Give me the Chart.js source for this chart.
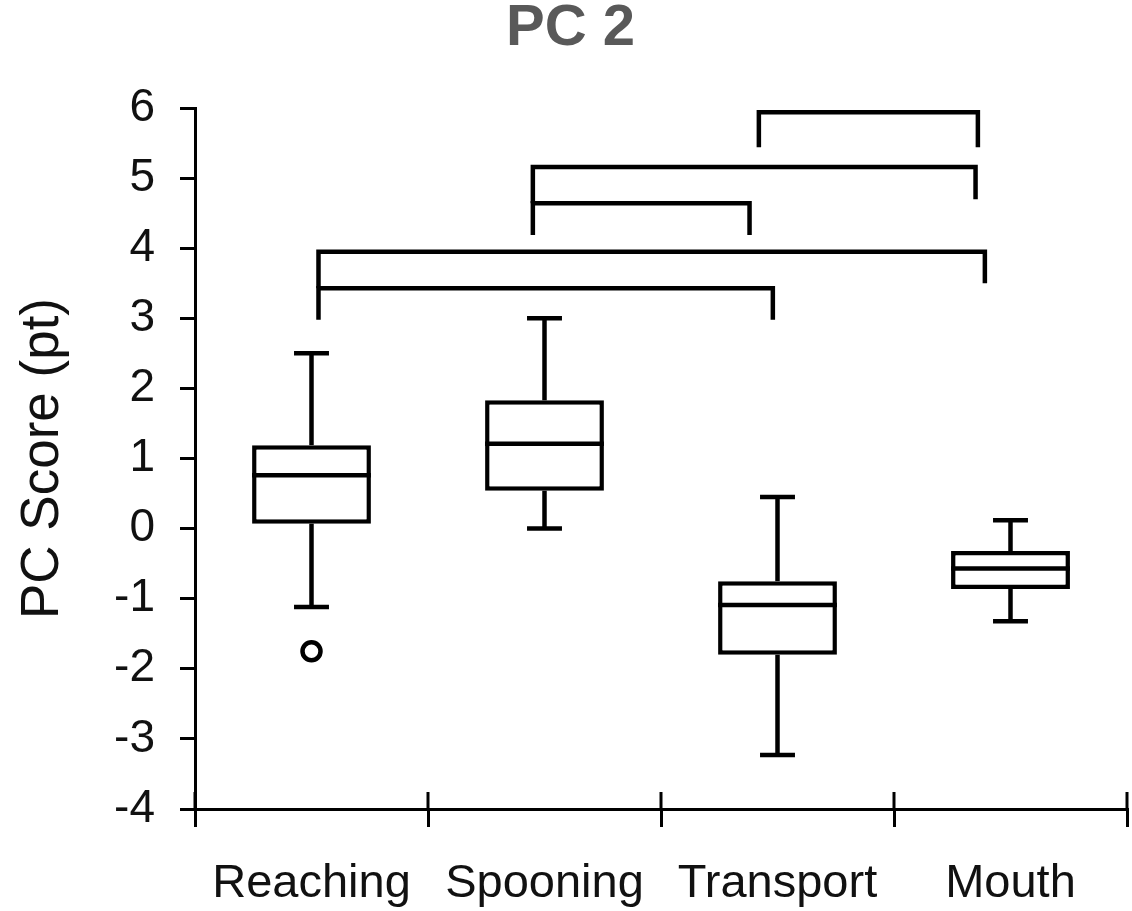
<!DOCTYPE html>
<html>
<head>
<meta charset="utf-8">
<script src="https://cdn.jsdelivr.net/npm/chart.js@4.4.1/dist/chart.umd.min.js"></script>
<style>
  body { margin: 0; background: #fff; overflow: hidden; }
  #wrap { width: 1132px; height: 911px; }
</style>
</head>
<body>
<div id="wrap"><canvas id="pcChart"></canvas></div>
<script>
const categories = ['Reaching', 'Spooning', 'Transport', 'Mouth'];
const whiskerLow = [-1.12, 0.0, -3.23, -1.32];
const q1 = [0.07, 0.54, -1.80, -0.86];
const medians = [0.76, 1.21, -1.09, -0.57];
const q3 = [1.19, 1.83, -0.75, -0.32];
const whiskerHigh = [2.50, 3.00, 0.45, 0.12];
const outlierCats = ['Reaching'];
const outlierVals = [-1.75];

// significance brackets (x in category units, y in PC score)
const bracketFrom = [1.92, 0.95, 0.95, 0.03, 0.03];
const bracketTo = [2.86, 2.85, 1.88, 2.89, 1.98];
const bracketLevel = [5.94, 5.16, 4.64, 3.95, 3.43];
const bracketLeftEnd = [5.44, 4.64, 4.19, 3.43, 2.98];
const bracketRightEnd = [5.44, 4.70, 4.19, 3.50, 2.98];

const fontFamily = "Arial, 'Liberation Sans', sans-serif";

const boxParts = {
    id: 'boxParts',
    afterDatasetsDraw(chart) {
        const { ctx, scales: { x, y } } = chart;
        const bars = chart.getDatasetMeta(0).data;
        const unit = x.getPixelForValue(1) - x.getPixelForValue(0);
        const line = (x1, y1, x2, y2) => {
            ctx.beginPath();
            ctx.moveTo(x1, y1);
            ctx.lineTo(x2, y2);
            ctx.stroke();
        };
        ctx.save();
        ctx.strokeStyle = '#000';
        ctx.lineWidth = 4.5;
        ctx.lineCap = 'butt';
        bars.forEach((bar, i) => {
            const cx = bar.x;
            const half = bar.width / 2;
            const cap = unit * 0.075;
            const yHi = y.getPixelForValue(whiskerHigh[i]);
            const yLo = y.getPixelForValue(whiskerLow[i]);
            line(cx, y.getPixelForValue(q3[i]), cx, yHi);
            line(cx, y.getPixelForValue(q1[i]), cx, yLo);
            line(cx - cap, yHi, cx + cap, yHi);
            line(cx - cap, yLo, cx + cap, yLo);
            const ym = y.getPixelForValue(medians[i]);
            line(cx - half, ym, cx + half, ym);
        });

        // outliers
        ctx.fillStyle = '#fff';
        outlierCats.forEach((c, k) => {
            ctx.beginPath();
            ctx.arc(x.getPixelForValue(categories.indexOf(c)), y.getPixelForValue(outlierVals[k]), 9, 0, Math.PI * 2);
            ctx.fill();
            ctx.stroke();
        });

        // brackets
        ctx.lineJoin = 'miter';
        bracketLevel.forEach((lvl, k) => {
            const xa = x.getPixelForValue(bracketFrom[k]);
            const xb = x.getPixelForValue(bracketTo[k]);
            ctx.beginPath();
            ctx.moveTo(xa, y.getPixelForValue(bracketLeftEnd[k]));
            ctx.lineTo(xa, y.getPixelForValue(lvl));
            ctx.lineTo(xb, y.getPixelForValue(lvl));
            ctx.lineTo(xb, y.getPixelForValue(bracketRightEnd[k]));
            ctx.stroke();
        });

        // tick marks on x axis also poke up above the line
        ctx.lineWidth = 3;
        for (let k = 0; k <= categories.length; k++) {
            const px = x.getPixelForValue(k - 0.5);
            line(px, x.top - 17, px, x.top);
        }
        ctx.restore();
    }
};

const ctx = document.getElementById('pcChart').getContext('2d');
new Chart(ctx, {
    type: 'bar',
    data: {
        labels: categories,
        datasets: [{
            data: q1.map((v, i) => [v, q3[i]]),
            backgroundColor: '#fff',
            borderColor: '#000',
            borderWidth: 4.5,
            borderSkipped: false,
            barPercentage: 0.51,
            categoryPercentage: 1.0
        }]
    },
    options: {
        responsive: true,
        maintainAspectRatio: false,
        animation: false,
        layout: { padding: { top: 0, right: 5, bottom: 0, left: 14 } },
        plugins: {
            legend: { display: false },
            tooltip: { enabled: false },
            title: {
                display: true,
                text: 'PC 2',
                color: '#595959',
                font: { family: fontFamily, size: 58, weight: 'bold', lineHeight: 1 },
                padding: { top: 0, bottom: 50 }
            }
        },
        scales: {
            x: {
                offset: true,
                grid: {
                    offset: true,
                    drawOnChartArea: false,
                    drawTicks: true,
                    tickLength: 18,
                    lineWidth: 3,
                    color: '#000'
                },
                border: { display: true, color: '#000', width: 3 },
                ticks: {
                    color: '#111',
                    padding: 29,
                    maxRotation: 0,
                    font: { family: fontFamily, size: 47 }
                },
                afterFit(scale) {
                    scale.height = 102;
                    scale.paddingLeft = 0;
                    scale.paddingRight = 0;
                }
            },
            y: {
                min: -4,
                max: 6,
                grid: {
                    drawOnChartArea: false,
                    drawTicks: true,
                    tickLength: 15,
                    lineWidth: 3,
                    color: '#000'
                },
                border: { display: true, color: '#000', width: 3 },
                ticks: {
                    stepSize: 1,
                    color: '#111',
                    padding: 25,
                    font: { family: fontFamily, size: 46 }
                },
                title: {
                    display: true,
                    text: 'PC Score (pt)',
                    color: '#111',
                    padding: { top: 3, bottom: 0 },
                    font: { family: fontFamily, size: 53, lineHeight: 1 }
                },
                afterFit(scale) { scale.width = 181; }
            }
        }
    },
    plugins: [boxParts]
});
</script>
</body>
</html>
